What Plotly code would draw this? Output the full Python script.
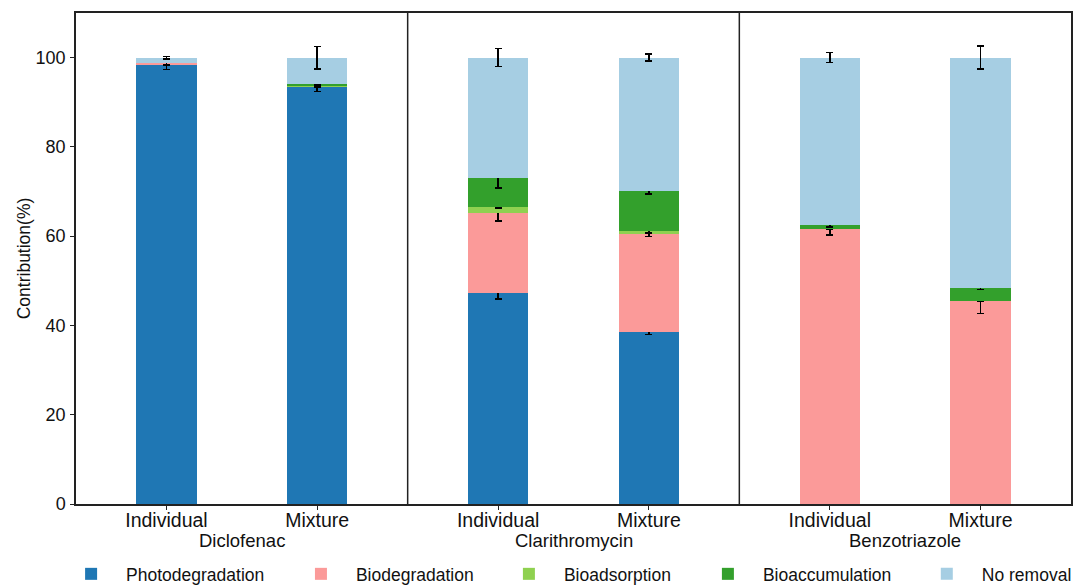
import plotly.graph_objects as go

# Sample groups and the two exposure conditions within each
compounds = ["Diclofenac", "Clarithromycin", "Benzotriazole"]
conditions = ["Individual", "Mixture"]

# Contribution (%) of each removal pathway, ordered
# Diclofenac-Ind, Diclofenac-Mix, Clarithromycin-Ind, Clarithromycin-Mix, Benzotriazole-Ind, Benzotriazole-Mix
photodegradation = [98.3, 93.6, 47.3, 38.5, 0.0, 0.0]
biodegradation = [0.6, 0.0, 17.9, 21.9, 61.6, 45.5]
bioadsorption = [0.0, 0.1, 1.4, 0.7, 0.0, 0.0]
bioaccumulation = [0.0, 0.5, 6.4, 9.1, 1.0, 3.0]
no_removal = [1.1, 5.8, 27.0, 29.8, 37.4, 51.5]

# Standard deviations
photodegradation_sd = [1.0, 1.2, 1.4, 0.5, 0.0, 0.0]
biodegradation_sd = [0.5, 0.0, 1.8, 0.5, 1.3, 2.8]
bioadsorption_sd = [0.0, 0.3, 0.3, 0.4, 0.0, 0.0]
bioaccumulation_sd = [0.0, 0.3, 2.2, 0.8, 0.5, 0.4]
no_removal_sd = [0.3, 2.5, 2.0, 0.8, 1.1, 2.6]

series = [
    ("Photodegradation", photodegradation, photodegradation_sd, "#1f77b4"),
    ("Biodegradation", biodegradation, biodegradation_sd, "#fb9a99"),
    ("Bioadsorption", bioadsorption, bioadsorption_sd, "#8fd150"),
    ("Bioaccumulation", bioaccumulation, bioaccumulation_sd, "#33a02c"),
    ("No removal", no_removal, no_removal_sd, "#a6cee3"),
]

# left edge of each legend entry, as a fraction of the plot width
legend_x = [-0.020, 0.211, 0.420, 0.620, 0.840]

# x layout: each compound panel spans 2.2 units, bars at 0 and 1 within it
panel = 2.2
xpos = [g * panel + k for g in range(len(compounds)) for k in range(len(conditions))]
ticktext = [c for _ in compounds for c in conditions]

fig = go.Figure()
for i, (name, vals, sd, color) in enumerate(series):
    fig.add_trace(go.Bar(
        x=xpos, y=vals, name=name, width=0.4, showlegend=True,
        marker=dict(color=color, line=dict(width=0)),
        error_y=dict(type="data", array=sd, visible=True,
                     color="black", thickness=1.5, width=3.5),
        legend="legend" if i == 0 else f"legend{i + 1}",
    ))

# vertical separators between compound panels
for g in range(1, len(compounds)):
    fig.add_shape(type="line", xref="x", yref="paper",
                  x0=g * panel - 0.6, x1=g * panel - 0.6, y0=0, y1=1,
                  line=dict(color="#222222", width=1.5))

# compound names under the condition labels
for g, name in enumerate(compounds):
    fig.add_annotation(x=g * panel + 0.5, y=-0.0753, xref="x", yref="paper",
                       text=name, showarrow=False, yanchor="middle",
                       font=dict(size=18.5, color="#111111"))

axis_font = dict(family="Liberation Sans, Arial, sans-serif", color="#111111")

# one horizontal legend box per series so each entry sits at its own position
legends = {}
for i, lx in enumerate(legend_x):
    key = "legend" if i == 0 else f"legend{i + 1}"
    legends[key] = dict(orientation="h", x=lx, xanchor="left",
                        y=-0.1425, yanchor="middle",
                        itemwidth=60, font=dict(size=17.5),
                        bgcolor="rgba(0,0,0,0)")

fig.update_layout(
    width=1074, height=585,
    margin=dict(l=76, r=3, t=13, b=81, autoexpand=False),
    barmode="stack",
    showlegend=True,
    plot_bgcolor="white", paper_bgcolor="white",
    font=dict(family="Liberation Sans, Arial, sans-serif", color="#111111"),
    xaxis=dict(range=[-0.6, 3 * panel - 0.6], tickvals=xpos, ticktext=ticktext,
               showline=True, mirror=True, linecolor="#222222", linewidth=1.5,
               ticks="outside", ticklen=4, tickcolor="#222222",
               ticklabelstandoff=-6,
               tickfont=dict(size=19.5, **axis_font), showgrid=False, zeroline=False),
    yaxis=dict(range=[0, 110], tickvals=[0, 20, 40, 60, 80, 100],
               showline=True, mirror=True, linecolor="#222222", linewidth=1.5,
               ticks="outside", ticklen=4, tickcolor="#222222",
               ticklabelstandoff=1,
               tickfont=dict(size=18, **axis_font), showgrid=False, zeroline=False,
               title=dict(text="Contribution(%)", font=dict(size=17.5, **axis_font),
                          standoff=0)),
    **legends,
)

fig.write_html("out.html")
